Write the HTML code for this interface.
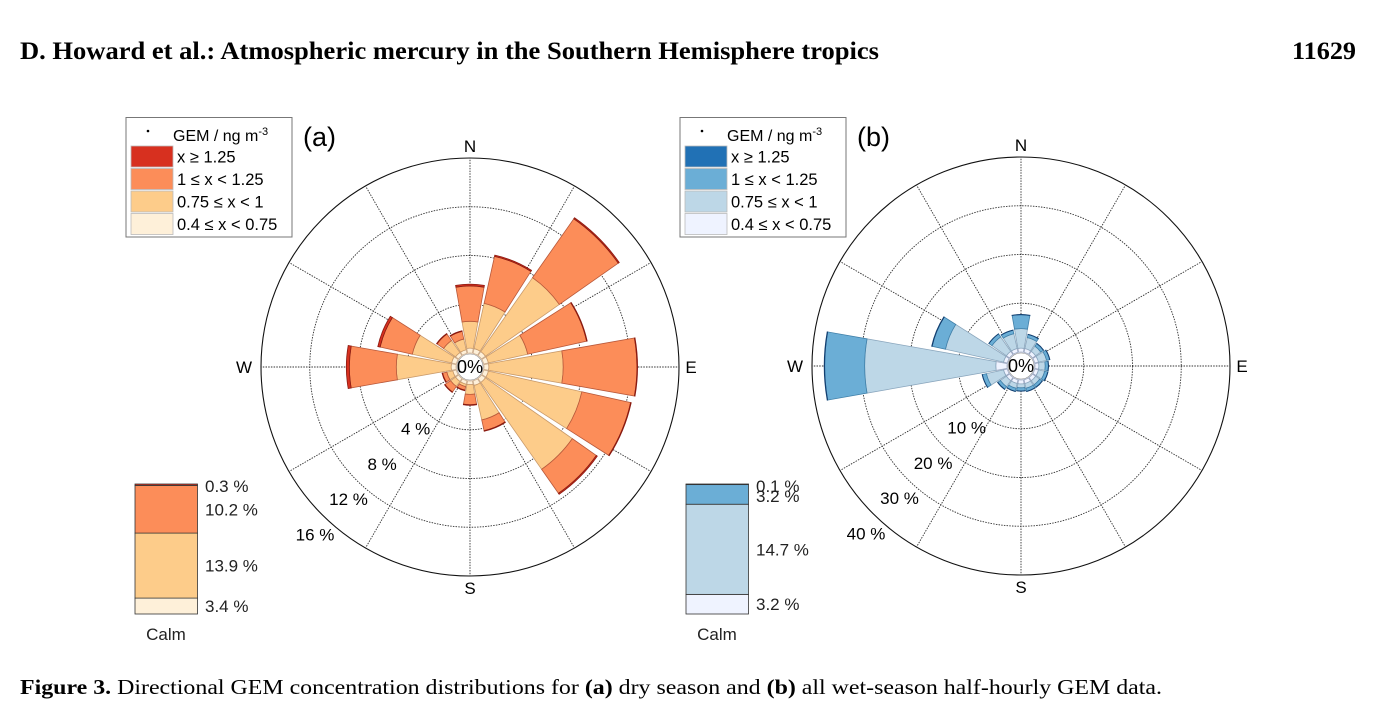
<!DOCTYPE html>
<html><head><meta charset="utf-8"><style>
body{margin:0;background:#fff;width:1387px;height:724px;overflow:hidden;position:relative;font-family:"Liberation Sans",sans-serif}
.hdr{position:absolute;top:38px;font-family:"Liberation Serif",serif;font-weight:bold;font-size:25px;color:#000;white-space:nowrap}
.cap{position:absolute;left:20px;top:675px;font-family:"Liberation Serif",serif;font-size:21px;color:#000;white-space:nowrap;transform-origin:0 0}
</style></head><body>
<div class="hdr" id="ttl" style="left:20px;transform-origin:0 0">D. Howard et al.: Atmospheric mercury in the Southern Hemisphere tropics</div>
<div class="hdr" id="pn" style="left:1292px;transform-origin:0 0">11629</div>
<div class="cap" id="cap"><b>Figure 3.</b> Directional GEM concentration distributions for <b>(a)</b> dry season and <b>(b)</b> all wet-season half-hourly GEM data.</div>
<svg id="chart" width="1387" height="724" style="position:absolute;left:0;top:0"></svg>
<script>
const directions=["N","NNE","NE","ENE","E","ESE","SE","SSE","S","SSW","SW","WSW","W","WNW","NW","NNW"];
const legendLabels=["x \u2265 1.25","1 \u2264 x < 1.25","0.75 \u2264 x < 1","0.4 \u2264 x < 0.75"];
// dry season (a): per-direction % for each class (inner to outer)
const dryL1=[0.4,0.4,0.4,0.4,0.4,0.4,0.4,0.4,0.3,0.3,0.3,0.3,0.4,0.4,0.3,0.3];
const dryL2=[2.2,3.8,7.4,3.3,6.1,7.85,8.7,2.9,0.8,0.2,0.5,0.5,4.5,3.3,1.2,0.9];
const dryL3=[2.9,3.95,5.9,4.95,6.05,4.1,2.4,0.9,0.85,0.3,0.55,0.35,3.85,2.7,0.65,0.65];
const dryL4=[0.15,0.1,0.1,0.05,0.05,0.05,0.1,0.05,0.05,0.05,0.05,0.05,0.25,0.2,0.05,0.05];
const dryTicks=[4,8,12,16];
const dryCalm=[3.4,13.9,10.2,0.3];
// wet season (b)
const wetL1=[0.8,0.8,0.8,0.8,0.8,0.8,0.8,0.8,0.8,0.8,0.8,0.8,2.3,0.8,0.8,0.8];
const wetL2=[4.0,2.3,1.3,1.7,1.3,1.3,1.0,1.0,0.8,1.0,1.5,3.6,26.9,12.2,3.6,3.1];
const wetL3=[2.85,0.65,0.65,0.65,0.65,0.65,0.65,0.65,0.65,0.65,0.65,0.85,8.2,2.8,0.75,0.75];
const wetL4=[0.05,0.05,0.05,0.05,0.05,0.05,0.05,0.05,0.05,0.05,0.05,0.05,0.1,0.1,0.05,0.05];
const wetTicks=[10,20,30,40];
const wetCalm=[3.2,14.7,3.2,0.1];

function fitW(id,w){const e=document.getElementById(id);const cw=e.getBoundingClientRect().width;e.style.transform='scaleX('+(w/cw)+')';}
fitW('ttl',859);fitW('pn',64);fitW('cap',1142);

const NS="http://www.w3.org/2000/svg";
const svg=document.getElementById('chart');
function mk(tag,attrs,parent){const e=document.createElementNS(NS,tag);for(const k in attrs)e.setAttribute(k,attrs[k]);(parent||svg).appendChild(e);return e;}
const R0=14,RMAX=209;
function rose(cx,cy,layers,ticks,fills,strokes,tag,lx,labelText,calm,calmX){
  const maxV=ticks[ticks.length-1];
  const rs=v=>R0+(RMAX-R0)*v/maxV;
  const g=mk('g',{});
  
  
  ticks.forEach((t,i)=>{
    if(i<ticks.length-1){const c=mk('circle',{cx:cx,cy:cy,r:rs(t),fill:'none',stroke:'#333','stroke-width':0.9,'stroke-dasharray':'1.5 1.2'},g);
    
    }
  });
  for(let k=0;k<12;k++){const a=k*30*Math.PI/180;
    const l=mk('line',{x1:cx+R0*Math.sin(a),y1:cy-R0*Math.cos(a),x2:cx+RMAX*Math.sin(a),y2:cy-RMAX*Math.cos(a),stroke:'#333','stroke-width':0.9,'stroke-dasharray':'1.5 1.2'},g);
    
    }
  const hw=10*Math.PI/180;
  directions.forEach((d,i)=>{
    const th=i*22.5*Math.PI/180;let cum=0;
    layers.forEach((L,j)=>{
      const a=rs(cum),b=rs(cum+L[i]);cum+=L[i];
      const p=(r,t)=>(cx+r*Math.sin(t)).toFixed(2)+','+(cy-r*Math.cos(t)).toFixed(2);
      const path='M'+p(a,th-hw)+' L'+p(b,th-hw)+' A'+b+','+b+' 0 0 1 '+p(b,th+hw)+' L'+p(a,th+hw)+' A'+a+','+a+' 0 0 0 '+p(a,th-hw)+'Z';
      const e=mk('path',{d:path,fill:fills[j],stroke:strokes[j],'stroke-width':0.8},g);
      
      
    });
  });
  const oc=mk('circle',{cx:cx,cy:cy,r:RMAX,fill:'none',stroke:'#111','stroke-width':1.1},g);
  
  
  const hc=mk('circle',{cx:cx,cy:cy,r:R0-1,fill:'#fff',stroke:'#888','stroke-width':0.6},g);
  
  
  const z=mk('text',{x:cx,y:cy+6,'font-size':18,'text-anchor':'middle',fill:'#000'},g);z.textContent='0%';
  
  
  [['N',0,-221],['E',221,0],['S',0,221],['W',-226,0]].forEach(c=>{
    const t=mk('text',{x:cx+c[1],y:cy+c[2]+6,'font-size':17,'text-anchor':'middle'},g);t.textContent=c[0];
    
    });
  ticks.forEach(t=>{const r=rs(t)+22;const a=(223.5)*Math.PI/180;
    const e=mk('text',{x:cx+r*Math.sin(a)+4,y:cy-r*Math.cos(a)+6,'font-size':17,'text-anchor':'middle'},g);
    e.textContent=t+' %';
    
    });
  const lg=mk('g',{},svg);
  
  
  mk('rect',{x:lx,y:117.5,width:166,height:119.5,fill:'#fff',stroke:'#777','stroke-width':1},lg);
  mk('circle',{cx:lx+22,cy:131,r:1.3,fill:'#000'},lg);
  const tt=mk('text',{x:lx+47,y:141,'font-size':16},lg);tt.innerHTML='GEM / ng m<tspan dy="-6" font-size="11">-3</tspan>';
  const ord=[3,2,1,0];
  legendLabels.forEach((lab,k)=>{const j=ord[k];const y=146+k*22.5;
    mk('rect',{x:lx+5,y:y,width:42,height:21,fill:fills[j],stroke:'#bbb','stroke-width':0.8},lg);
    const e=mk('text',{x:lx+51,y:y+16.5,'font-size':16.5},lg);e.textContent=lab;
    
    });
  const pl=mk('text',{x:lx+177,y:146,'font-size':27},svg);pl.textContent=labelText;
  
  
  const cg=mk('g',{},svg);
  
  
  const tot=calm.reduce((s,v)=>s+v,0);let y0=614;const H=130;
  const labY=[];
  calm.forEach((v,j)=>{const h=H*v/tot;y0-=h;
    mk('rect',{x:calmX,y:y0,width:62.5,height:h,fill:fills[j],stroke:'#333','stroke-width':0.8},cg);
    labY.push(y0+h/2);});
  const order=[3,2,1,0];let prev=-1e9;const fy={};
  order.forEach(j=>{let y=Math.max(labY[j],prev+(prev<0?0:10));if(j===3)y=Math.max(y,486);fy[j]=y;prev=y;});
  calm.forEach((v,j)=>{const e=mk('text',{x:calmX+70,y:fy[j]+6,'font-size':17,fill:'#222'},cg);e.textContent=v+' %';
    
    });
  const cl=mk('text',{x:calmX+31,y:640,'font-size':17,'text-anchor':'middle',fill:'#222'},cg);cl.textContent='Calm';
}
rose(470,367,[dryL1,dryL2,dryL3,dryL4],dryTicks,['#fef0d9','#fdcc8a','#fc8d59','#d7301f'],['#c9a98a','#c99a6a','#b8583a','#8a1a10'],'a',126,'(a)',dryCalm,135);
rose(1021,366,[wetL1,wetL2,wetL3,wetL4],wetTicks,['#eff3ff','#bdd7e7','#6baed6','#2171b5'],['#9aa6c0','#8aa6bd','#3f7fa8','#123f70'],'b',680,'(b)',wetCalm,686);
</script>
</body></html>
